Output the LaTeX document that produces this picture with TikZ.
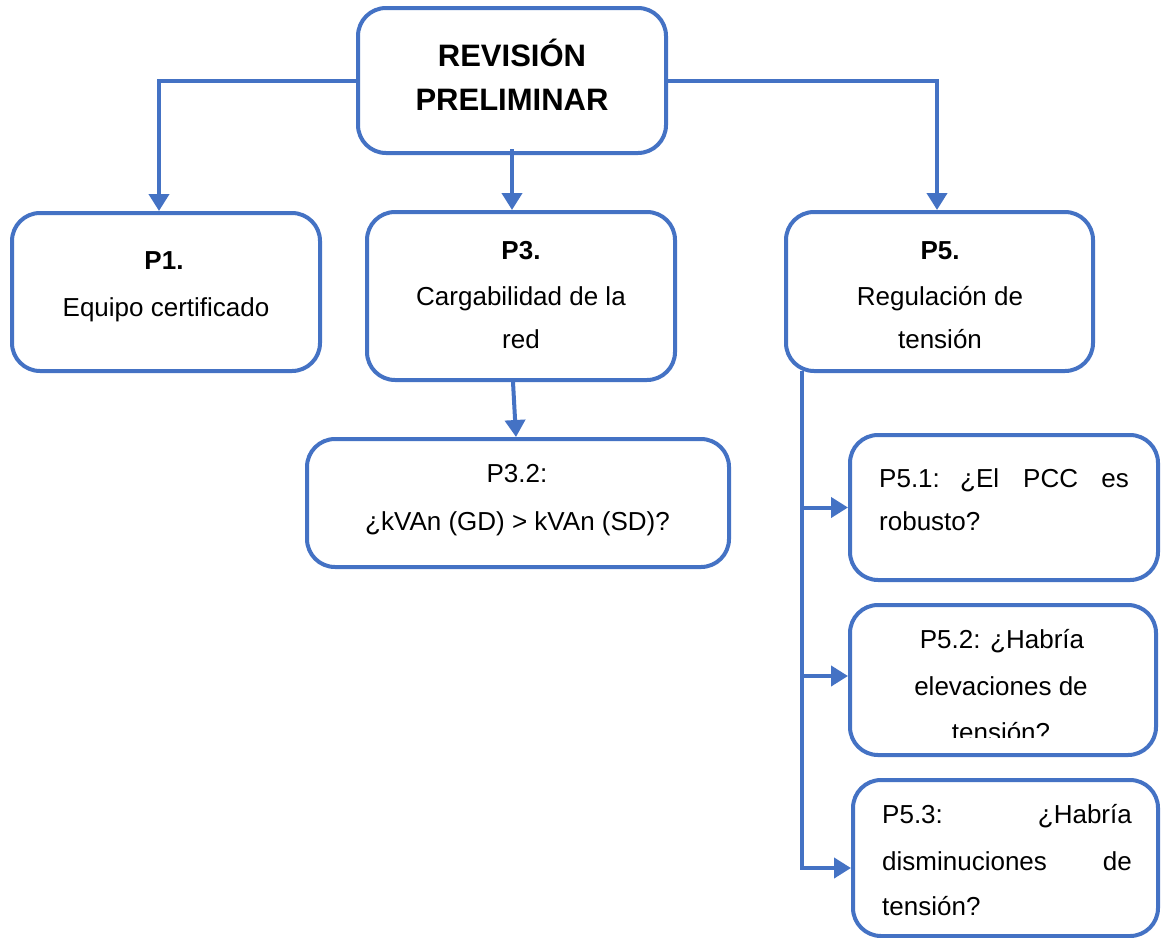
\documentclass[tikz,border=0pt]{standalone}
\usepackage{fontspec}
\setmainfont{Liberation Sans}
\usetikzlibrary{arrows.meta}
\definecolor{lineblue}{HTML}{4472C4}
\newcommand{\bodyfont}{\fontsize{26}{30}\selectfont}
\newcommand{\titlefont}{\fontsize{31}{36}\selectfont\bfseries}
\tikzset{
  box/.style={draw=lineblue, line width=4pt, rounded corners=28pt, fill=white, inner sep=0pt},
  conn/.style={draw=lineblue, line width=4pt},
  arr/.style={conn, -{Triangle[length=17pt,width=20pt]}},
  txt/.style={inner sep=0pt, anchor=base, font=\bodyfont},
  txtw/.style={inner sep=0pt, anchor=base west, font=\bodyfont},
  txte/.style={inner sep=0pt, anchor=base east, font=\bodyfont},
  ttl/.style={inner sep=0pt, anchor=base, font=\titlefont},
}
\begin{document}
\begin{tikzpicture}[x=1pt, y=-1pt]
\useasboundingbox (0,0) rectangle (1161,937);

% boxes
\node[box, minimum width=308pt, minimum height=145pt] (title) at (512,80.5) {};
\node[box, minimum width=308pt, minimum height=158pt] (p1) at (166,292) {};
\node[box, minimum width=308pt, minimum height=168pt] (p3) at (521,296) {};
\node[box, minimum width=307pt, minimum height=159pt] (p5) at (939.5,291.5) {};
\node[box, minimum width=422pt, minimum height=128pt] (p32) at (518,503) {};
\node[box, minimum width=308pt, minimum height=145pt] (p51) at (1004,507.5) {};
\node[box, minimum width=306pt, minimum height=150pt] (p52) at (1003,680) {};
\node[box, minimum width=305pt, minimum height=156pt] (p53) at (1005.5,858) {};

% connectors
\draw[arr] (title.west) -| ([xshift=-7pt]p1.north);
\draw[arr] (title.east) -| ([xshift=-2.5pt]p5.north);
\draw[arr] ([yshift=6pt]title.south) -- (title.south |- p3.north);
\draw[arr] ([xshift=-8pt]p3.south) -- ([xshift=-2pt]p32.north);
\coordinate (trunk) at ([xshift=18pt,yshift=2pt]p5.south west);
\draw[arr] (trunk) |- ([yshift=-10pt]p53.west);
\draw[arr] (trunk |- p51.west) -- (p51.west);
\draw[arr] ([yshift=4pt]trunk |- p52.west) -- ([yshift=4pt]p52.west);

% texts
\node[ttl] (t1) at (512,66) {REVISIÓN};
\node[ttl] (t2) at (512,110) {PRELIMINAR};

\node[txt, font=\bodyfont\bfseries] (p1a) at (164,269) {P1.};
\node[txt] (p1b) at (166,316) {Equipo certificado};

\node[txt, font=\bodyfont\bfseries] (p3a) at (521,259) {P3.};
\node[txt] (p3b) at (521,305) {Cargabilidad de la};
\node[txt] (p3c) at (521,348) {red};

\node[txt, font=\bodyfont\bfseries] (p5a) at (940,259) {P5.};
\node[txt] (p5b) at (940,305) {Regulación de};
\node[txt] (p5c) at (940,348) {tensión};

\node[txt] (p32a) at (517,482) {P3.2:};
\node[txt] (p32b) at (517.5,530) {¿kVAn (GD) > kVAn (SD)?};

\node[txtw] (p51a) at (879,487) {P5.1:};
\node[txtw] (p51b) at (960,487) {¿El};
\node[txtw] (p51c) at (1023,487) {PCC};
\node[txte] (p51d) at (1129,487) {es};
\node[txtw] (p51e) at (879,530) {robusto?};

\node[txt] (p52a) at (1002,648) {P5.2: ¿Habría};
\node[txt] (p52b) at (1001,695) {elevaciones de};
\begin{scope}
\clip (850,600) rectangle (1160,737);
\node[txt] (p52c) at (1001,741) {tensión?};
\end{scope}

\node[txtw] (p53a) at (882,823) {P5.3:};
\node[txte] (p53b) at (1132,823) {¿Habría};
\node[txtw] (p53c) at (882,870) {disminuciones};
\node[txte] (p53d) at (1132,870) {de};
\node[txtw] (p53e) at (882,915) {tensión?};
\end{tikzpicture}
\end{document}
